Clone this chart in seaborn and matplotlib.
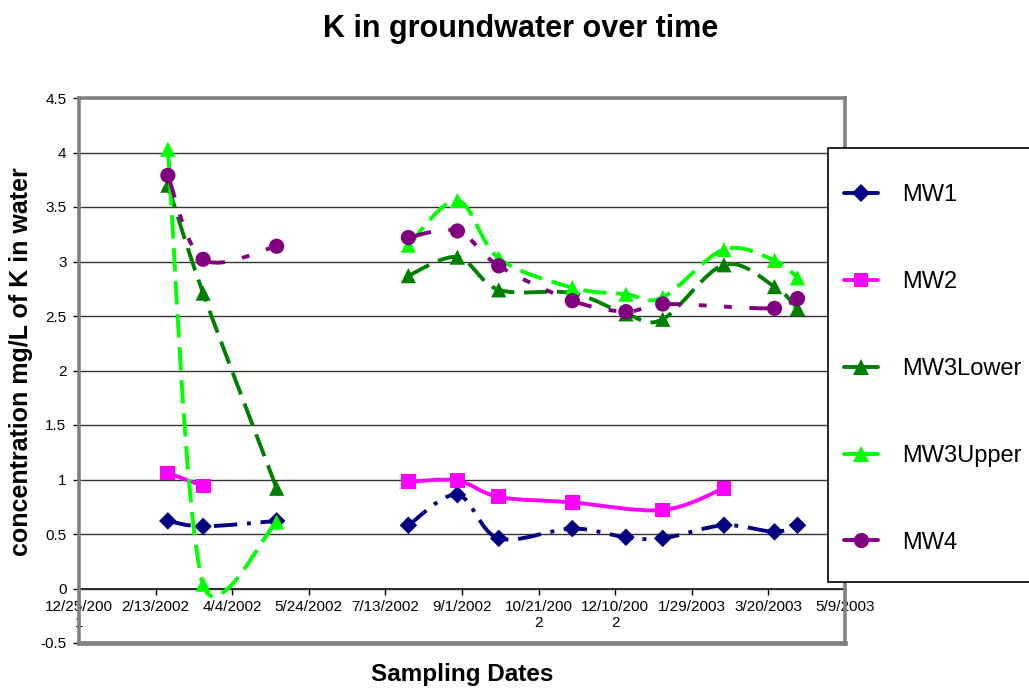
# %% import libraries
import numpy as np
import pandas as pd
import matplotlib
matplotlib.use("Agg")
import matplotlib.pyplot as plt
import matplotlib.dates as mdates
from matplotlib.path import Path
from matplotlib.patches import PathPatch, Rectangle
from matplotlib.lines import Line2D
import seaborn as sns

# %% data
sample_dates = pd.to_datetime([
    "2002-02-21", "2002-03-16", "2002-05-03",
    "2002-07-28", "2002-08-29", "2002-09-25", "2002-11-12", "2002-12-17",
    "2003-01-10", "2003-02-19", "2003-03-24", "2003-04-08",
])
# no line drawn between the 3rd and 4th sampling dates
segment_breaks = [3]

mw1 = [0.62, 0.57, 0.62, 0.58, 0.86, 0.46, 0.55, 0.47, 0.46, 0.58, 0.52, 0.58]
mw2 = [1.06, 0.94, np.nan, 0.98, 0.99, 0.84, 0.79, np.nan, 0.72, 0.92, np.nan, np.nan]
mw3_lower = [3.70, 2.71, 0.92, 2.87, 3.04, 2.74, 2.71, 2.52, 2.47, 2.97, 2.77, 2.57]
mw3_upper = [4.03, 0.04, 0.61, 3.15, 3.56, 3.03, 2.76, 2.70, 2.67, 3.11, 3.01, 2.85]
mw4 = [3.79, 3.02, 3.14, 3.22, 3.28, 2.96, 2.64, 2.54, 2.61, np.nan, 2.57, 2.66]

wells = ["MW1", "MW2", "MW3Lower", "MW3Upper", "MW4"]
tick_dates = pd.date_range("2001-12-25", "2003-05-09", freq="50D")
y_ticks = np.arange(-0.5, 4.51, 0.5)

df = pd.DataFrame({
    "date": sample_dates,
    "MW1": mw1,
    "MW2": mw2,
    "MW3Lower": mw3_lower,
    "MW3Upper": mw3_upper,
    "MW4": mw4,
})

# %% styles
colors = {"MW1": "#000080", "MW2": "#FF00FF", "MW3Lower": "#008000",
          "MW3Upper": "#00FF00", "MW4": "#800080"}
markers = {"MW1": "D", "MW2": "s", "MW3Lower": "^", "MW3Upper": "^", "MW4": "o"}
sizes = {"MW1": 80, "MW2": 115, "MW3Lower": 120, "MW3Upper": 120, "MW4": 120}
dashes = {"MW1": (0, (6, 2.5, 1, 2.5)), "MW2": "-",
          "MW3Lower": (0, (6, 2.5)), "MW3Upper": (0, (6, 2.5)),
          "MW4": (0, (6, 4.5, 2, 4.5, 2, 4.5))}
lw = 2.8


def smooth_path(ax, xs, ys):
    # excel-like smoothed line, bezier control points worked out in pixels
    to_px = ax.transData
    pts = to_px.transform(np.column_stack([xs, ys]))
    n = len(pts)
    verts = [pts[0]]
    codes = [Path.MOVETO]
    for i in range(n - 1):
        p0 = pts[max(i - 1, 0)]
        p1 = pts[i]
        p2 = pts[i + 1]
        p3 = pts[min(i + 2, n - 1)]
        seg = np.hypot(*(p2 - p1))
        t1 = (p2 - p0) / 6
        t2 = (p3 - p1) / 6
        # keep the handles shorter than half the segment
        for t in (t1, t2):
            ln = np.hypot(*t)
            if ln > seg / 2:
                t *= (seg / 2) / ln
        verts += [p1 + t1, p2 - t2, p2]
        codes += [Path.CURVE4] * 3
    verts = to_px.inverted().transform(np.array(verts))
    return Path(verts, codes)


# %% plot
sns.set_style("white")
plt.rcParams["font.family"] = ["Liberation Sans", "DejaVu Sans"]
plt.rcParams["text.color"] = "black"
plt.rcParams["xtick.color"] = "black"
plt.rcParams["ytick.color"] = "black"

fig, ax = plt.subplots(figsize=(10.29, 6.88), dpi=100)
fig.subplots_adjust(left=79 / 1029, right=845 / 1029,
                    bottom=1 - 643 / 688, top=1 - 98 / 688)
ax.set_xlim(mdates.date2num(tick_dates[0]), mdates.date2num(tick_dates[-1]))
ax.set_ylim(-0.5, 4.5)

x_num = mdates.date2num(df["date"])
for z, well in enumerate(wells):
    vals = df[well].to_numpy(dtype=float)
    for seg in np.split(np.arange(len(vals)), segment_breaks):
        idx = seg[~np.isnan(vals[seg])]
        if len(idx) < 2:
            continue
        patch = PathPatch(smooth_path(ax, x_num[idx], vals[idx]), fill=False,
                          edgecolor=colors[well], lw=lw, linestyle=dashes[well],
                          capstyle="butt", joinstyle="round", zorder=3 + 2 * z)
        ax.add_patch(patch)
    sns.scatterplot(data=df, x="date", y=well, ax=ax, marker=markers[well],
                    color=colors[well], s=sizes[well], edgecolor="none",
                    linewidth=0, zorder=4 + 2 * z)

ax.set_xlim(mdates.date2num(tick_dates[0]), mdates.date2num(tick_dates[-1]))
ax.set_ylim(-0.5, 4.5)
ax.set_xlabel("")
ax.set_ylabel("")
ax.set_xticks([])
ax.set_yticks(y_ticks)
ax.set_yticklabels([f"{v:g}" for v in y_ticks])
ax.tick_params(axis="y", left=True, direction="out", length=4, width=1,
               color="black", pad=5, labelsize=11, labelcolor="black")
ax.grid(axis="y", color="#333333", lw=1.0)
ax.set_axisbelow(True)
for side in ["left", "right", "top", "bottom"]:
    ax.spines[side].set_visible(True)
    ax.spines[side].set_color("#808080")
    ax.spines[side].set_linewidth(2.6)
ax.spines["bottom"].set_linewidth(3.4)

# category axis crosses at y = 0
zero_pos = (0 - y_ticks[0]) / (y_ticks[-1] - y_ticks[0])
sec = ax.secondary_xaxis(zero_pos)
labels = []
for d in tick_dates:
    s = f"{d.month}/{d.day}/{d.year}"
    if len(s) > 9:
        s = s[:9] + "\n" + s[9:]
    labels.append(s)
sec.set_xticks(mdates.date2num(tick_dates))
sec.set_xticklabels(labels, fontsize=11, multialignment="center", color="black")
sec.tick_params(axis="x", direction="out", length=4, width=1, color="black", pad=4)
sec.spines["bottom"].set_color("black")
sec.spines["bottom"].set_linewidth(1.2)

# titles
fig.text(0.506, 1 - 29 / 688, "K in groundwater over time", ha="center",
         va="center", fontsize=22, fontweight="bold")
fig.text(0.449, 1 - 674 / 688, "Sampling Dates", ha="center", va="center",
         fontsize=17.5, fontweight="bold")
fig.text(0.0204, 1 - 362 / 688, "concentration mg/L of K in water", ha="center",
         va="center", rotation=90, fontsize=18, fontweight="bold")

# legend box
fig.add_artist(Rectangle((828 / 1029, 1 - 582 / 688), (1040 - 828) / 1029, 434 / 688,
                         transform=fig.transFigure, facecolor="white",
                         edgecolor="black", lw=1.2, zorder=2))
handles = [Line2D([], [], color=colors[w], lw=lw, marker=markers[w],
                  markersize=np.sqrt(sizes[w]), markeredgewidth=0) for w in wells]
fig.legend(handles, wells, loc="upper left", bbox_to_anchor=(844 / 1029, 1 - 184 / 688),
           frameon=False, borderpad=0, borderaxespad=0, fontsize=17,
           labelspacing=2.75, handlelength=1.45, handletextpad=1.0)

fig.savefig("out.png", dpi=100)
